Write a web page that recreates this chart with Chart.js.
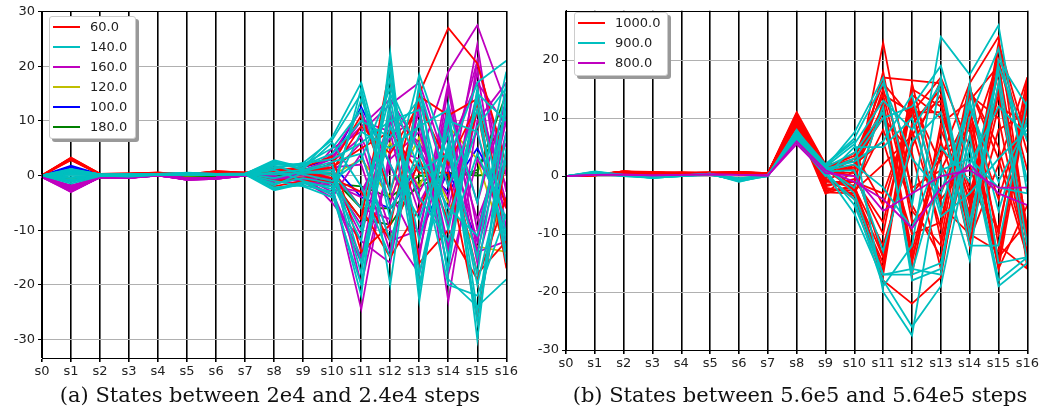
<!DOCTYPE html>
<html>
<head>
<meta charset="utf-8">
<script src="https://cdn.jsdelivr.net/npm/chart.js@4.4.1/dist/chart.umd.min.js"></script>
<style>
  body { margin: 0; background: #fff; width: 1041px; height: 412px; position: relative; overflow: hidden; }
  .panel { position: absolute; top: 0; height: 412px; }
  .legend { position: absolute; background: #fff; border: 1px solid #ccc; border-radius: 3px;
            box-shadow: 3px 3px 0 #999; font-family: "DejaVu Sans", sans-serif; font-size: 13px; color: #222; }
  .legend .row { position: absolute; height: 20px; }
  .legend .swatch { position: absolute; top: 9px; width: 27px; height: 2px; }
  .legend .txt { position: absolute; top: 2px; white-space: nowrap; }
  .caption { position: absolute; top: 383px; font-family: "DejaVu Serif", serif; font-size: 21px; color: #111; text-align: center; white-space: nowrap; }
</style>
</head>
<body>
<div class="panel" style="left:0;width:520px"><canvas id="leftChart"></canvas></div>
<div class="panel" style="left:520px;width:521px"><canvas id="rightChart"></canvas></div>
<div class="legend" id="legendLeft" style="left:49px;top:16px;width:85px;height:121px"></div>
<div class="legend" id="legendRight" style="left:574px;top:12px;width:92px;height:62px"></div>
<div class="caption" style="left:20px;width:500px">(a) States between 2e4 and 2.4e4 steps</div>
<div class="caption" style="left:550px;width:500px">(b) States between 5.6e5 and 5.64e5 steps</div>

<script>
const states = ["s0","s1","s2","s3","s4","s5","s6","s7","s8","s9","s10","s11","s12","s13","s14","s15","s16"];

// panel (a) rows, one per class
const aRed = [
  [0, 3.3, 0.3, 0.4, 0.5, 0.2, 0.8, 0.5, 1.5, 0.8, 2, 11, -3, 15, 27, 20.5, 2],
  [0, 3.0, 0.2, 0.3, 0.4, 0.1, 0.7, 0.4, 1.0, 1.5, 3.5, -14, -9, 14.5, 11, 14, -17],
  [0.1, 3.2, 0.1, 0.3, 0.5, 0.3, 0.6, 0.4, -2, -1, -1, -8, 20, -16, -10, -19, -4],
  [0, 2.8, 0.2, 0.2, 0.3, 0.1, 0.5, 0.3, 0.5, 0.8, 1.5, 5, 8, 0.5, 0.5, -26, 3],
  [0, 3.1, 0.3, 0.3, 0.4, 0.2, 0.7, 0.5, 1.2, 0.5, -0.5, -3, -12, 3, -8, 12, -16],
  [0, 2.9, 0.2, 0.3, 0.4, 0.2, 0.6, 0.4, 0.8, 1.2, 1, 9, 4, 13, 2, 13, -6],
  [0, 3.2, 0.3, 0.4, 0.5, 0.2, 0.8, 0.5, -1, -0.5, 0.5, -6, -15, -6, 5, -18, -12]
];
const aCyan = [
  [0, 1, 0.2, 0, 0.3, 0.4, 0.2, 0.3, 2.8, 1.5, 7, 17, -3, 18.5, 3, 17, 21],
  [0, -1.2, 0, -0.2, 0.1, 0.2, 0.1, 0.2, -2.7, -1.5, -2, -22, 22.5, -23, 13, -30, 15],
  [0, 0.8, 0.1, 0.1, 0.2, 0.5, 0.3, 0.4, 2.2, 2, 5, 12, -20, 17, -19, -24, -19],
  [0, -0.5, 0, 0.1, 0.2, 0.2, 0.2, 0.3, -1.8, 0.5, 1, -18, 14, -12, 10, 8, -12],
  [0, 1.2, 0.2, 0.3, 0.3, 0.3, 0.2, 0.3, 1.5, 2.2, 3, 6, 10, 12, -15, 15, 10],
  [0, 0.3, 0.1, 0, 0.1, 0.3, 0.1, 0.2, -1, -2, -4, 16, -6, 3, -20, -22, -7],
  [0, -1.5, -0.1, -0.1, 0.1, 0.1, 0.1, 0.2, 0.5, 1, 0, -10, 18, -20, 5, -15, 17],
  [0, 0.5, 0.1, 0.1, 0.2, 0.4, 0.2, 0.3, -2.2, -1.8, -3, 8, 5, 9, 12, -5, 19],
  [0, 1.0, 0.2, 0.2, 0.3, 0.4, 0.3, 0.3, 2.5, 1.2, 6, -2, -15, 16, -2, 12, -14],
  [0, -0.8, 0, 0, 0.2, 0.2, 0.1, 0.2, 1.0, -1, -2.5, 14, 2, -8, 8, -27, 5],
  [0, 0.2, 0.1, 0.1, 0.2, 0.3, 0.2, 0.3, -0.5, 0.8, 2, -16, 9, -4, -12, 4, -8],
  [0, 0.6, 0.1, 0, 0.2, 0.3, 0.2, 0.3, 1.8, 0.2, -1, 3, 16, 4, -6, -11, 12],
  [0, 0.9, 0.2, 0.1, 0.3, 0.4, 0.2, 0.3, 2.0, 1.8, 4, 10, 7, 14, -8, 9, 16],
  [0, -1.0, 0, 0, 0.1, 0.2, 0.1, 0.2, -1.5, -0.5, -1.5, -12, 20, -18, 6, -20, 3],
  [0, 0.4, 0.1, 0.1, 0.2, 0.3, 0.2, 0.3, 1.2, 2.3, 6.5, 15, -8, 10, -10, 14, -16],
  [0, -0.3, 0, 0, 0.2, 0.2, 0.2, 0.3, -2.5, -1.2, -3.5, -20, 12, -21, 11, -25, 8],
  [0, 1.1, 0.2, 0.2, 0.3, 0.4, 0.3, 0.3, 2.6, 1.0, 2.5, 4, -12, 6, -17, 16, -11],
  [0, 0.1, 0.1, 0.1, 0.2, 0.3, 0.2, 0.2, 0.2, 0.5, 0.5, -6, 15, 1, 4, -18, 14]
];
const aMagenta = [
  [0, -3, -0.3, -0.5, 0.1, -0.8, -0.6, 0, -0.5, -0.8, -2, -24.5, 5, 3, 19, 27.5, 13],
  [-0.2, -2.7, -0.4, -0.4, 0, -0.7, -0.5, 0.1, -1, -1.5, 5, 8, 13, 17, 1, 21, -3],
  [-0.3, -2.5, -0.2, -0.5, 0.1, -0.6, -0.4, 0, 0.2, 0.5, -5, -12, -16, 13, -23, 10, 17],
  [-0.1, -2.9, -0.3, -0.3, 0, -0.8, -0.5, 0.1, 0.3, 1, 3, 10, 8, -15, 16, -14, -12],
  [-0.2, -2.2, -0.2, -0.4, 0.1, -0.5, -0.4, 0, -0.8, -0.3, -3, -15, 12, -5, 5, 17, 9],
  [-0.3, -2.8, -0.3, -0.4, 0, -0.7, -0.6, 0, 0.5, 0.8, 1, -6, -8, 10, -18, 3, -6],
  [-0.1, -2.4, -0.2, -0.3, 0.1, -0.6, -0.5, 0.1, -0.3, -1.2, -4, 4, -12, -10, 13, -5, 14],
  [-0.2, -1.8, -0.3, -0.5, 0, -0.7, -0.4, 0, 0.2, 0.3, 2, -20, 3, 8, -9, 19, -13],
  [-0.2, -2.6, -0.2, -0.4, 0.1, -0.6, -0.5, 0.1, -1.5, -0.5, 4, 12, -3, -14, 9, -8, 6],
  [-0.1, -2.1, -0.2, -0.3, 0, -0.5, -0.4, 0, 0.8, 1.2, -1, -9, 11, 6, -4, 24, -10],
  [-0.3, -3, -0.3, -0.5, 0.1, -0.8, -0.6, 0, -0.2, -0.8, 0.5, 6, -10, -18, 3, -14, 8],
  [-0.2, -2.3, -0.2, -0.4, 0, -0.6, -0.5, 0.1, 0.4, 0.2, -2, -3, 7, 11, -13, 12, -2],
  [-0.2, -2.5, -0.3, -0.4, 0.1, -0.7, -0.5, 0, -0.6, 0.2, 3.5, 9, 14, 5, -6, 15, -5],
  [-0.1, -2.0, -0.2, -0.3, 0, -0.5, -0.4, 0.1, 0.6, -0.8, -3.5, -16, 2, -11, 17, -10, 11],
  [-0.3, -2.9, -0.3, -0.5, 0.1, -0.8, -0.6, 0, -1.2, 0.4, 1.5, 2, -14, 15, -2, 8, -14],
  [-0.2, -2.4, -0.2, -0.4, 0, -0.6, -0.5, 0.1, 0.1, 1.0, -0.5, -11, 9, -7, 11, -16, 4],
  [-0.2, -2.7, -0.3, -0.4, 0.1, -0.7, -0.5, 0, -0.4, -1.0, 2.5, 7, -5, 12, -14, 21, 0],
  [-0.1, -2.2, -0.2, -0.3, 0, -0.6, -0.4, 0, 0.7, 0.6, -1.5, -4, 10, -3, 7, -12, 10]
];
const aYellow = [
  [0, -0.5, 0, 0.1, 0.2, 0, 0.1, 0.2, 0.3, 0.5, 1, -6, 6, -2, 9, 3, -14],
  [0, 0.5, 0.1, 0.1, 0.2, 0.1, 0.2, 0.2, -0.5, -0.2, 0, 3, -4, 7, -5, -13, -14]
];
const aBlue = [
  [0, 1.8, 0.2, 0.2, 0.3, 0.2, 0.3, 0.3, 0.8, 1.5, 3, 12.5, 2, -11, 1, -12, 13],
  [0, 1.5, 0.1, 0.1, 0.2, 0.1, 0.2, 0.2, 0.5, 0.8, 2, -4, -6, 2, -3, 5, -5]
];
const aGreen = [
  [0, -0.8, -0.5, -0.4, 0, -0.3, -0.2, 0, 0.3, -0.5, -1, -8, -9, -1, 0, 0.5, 15],
  [0, -0.5, -0.3, -0.3, 0, -0.2, -0.1, 0.1, 0.5, -0.2, -0.5, -6, -6, -2, 0.5, 0, 0.5],
  [0, -0.6, -0.4, -0.2, 0, -0.2, -0.1, 0, 0.2, -0.8, -1.5, -2, -4, 0, -0.5, 1, 11]
];

// panel (b) rows
const bMagenta = [
  [0, 0.2, 0.3, 0.1, 0.2, 0.3, 0.2, 0.1, 6, 1, -1, -4, -9, -2, 2, -3, -5],
  [0, 0.2, 0.2, 0.1, 0.2, 0.3, 0.2, 0.1, 5.5, 0.5, 0, -6, -3, 0, 1, -2, -2]
];
const bCyan = [
  [0, 0.8, 0.2, -0.2, 0.1, 0.4, -1, 0.2, 6, 1.5, 7.5, 17, -5, 24, 17.5, 26, -3],
  [0, 0.5, 0.1, -0.3, 0, 0.3, -0.8, 0, 7, 2, 6, -20, -27.5, 2, -14.5, 20, 12],
  [0, 0.6, 0, -0.2, 0.1, 0.3, -0.6, 0.1, 6.5, 0.5, -6.5, -18, -26, -19, 5, -19, -15],
  [0, 0.4, 0.2, -0.1, 0.1, 0.2, -0.5, 0.1, 8, 1, 3, 10, 12, 19, 2, 12, 7],
  [0, 0.7, 0.1, -0.3, 0, 0.4, -0.9, 0, 7.5, 1.8, -3, -17, -16, -17, 16, -15, -14],
  [0, 0.3, 0.1, -0.2, 0.1, 0.3, -0.4, 0.1, 6, 0, 5, 5, 10, -7, -3, 3, 8],
  [0, 0.5, 0.2, -0.1, 0.1, 0.3, -0.7, 0.2, 7, 1.2, -2, 12, -18, -16, 10, 22, -1],
  [0, 0.6, 0.1, -0.2, 0, 0.2, -0.6, 0.1, 6.8, 0.8, 1, -13, 6, 11, -12, -12, 13],
  [0, 0.4, 0, -0.3, 0.1, 0.4, -0.5, 0, 7.2, 1.5, 4, 11, -16.5, 1, 3, -2, -3],
  [0, 0.5, 0.1, -0.2, 0.1, 0.3, -0.8, 0.1, 6.2, 0.3, -4, -19, -12, 17, -8, 16, -15],
  [0, 0.7, 0.2, -0.2, 0.1, 0.3, -0.6, 0.1, 7.8, 2, 6.5, 16, 3, -3, 13, -6, 10],
  [0, 0.3, 0.1, -0.1, 0.1, 0.2, -0.4, 0.1, 6.6, 1, 2, -2, -9, 5, -1, 18, -12],
  [0, 0.6, 0.1, -0.2, 0.1, 0.3, -0.7, 0.1, 7.4, 1.6, 5.5, 13, 8, 16, -10, 19, 6],
  [0, 0.5, 0.2, -0.3, 0, 0.3, -0.6, 0.1, 6.4, 0.9, -5, -17, -17, -15, 7, -18, -14],
  [0, 0.4, 0.1, -0.2, 0.1, 0.2, -0.5, 0, 7.0, 1.3, 2.5, 6, 14, -6, 12, -1, 9]
];
const bRed = [
  [0, 0.3, 0.8, 0.5, 0.5, 0.6, 0.7, 0.5, 11, 2, -2, 23, -3, 3, 16, 24, -10],
  [0, 0.2, 0.6, 0.6, 0.6, 0.5, 0.6, 0.4, 10, -3, 1, 17, 16.5, 16, -11, 2, 17],
  [0, 0.3, 0.7, 0.4, 0.4, 0.4, 0.5, 0.3, 9.5, -2, -3, -18, -22, -17.5, 12, -16, -5],
  [0, 0.1, 0.5, 0.6, 0.5, 0.5, 0.4, 0.4, 9, 1.5, 3.5, 14, 11, 17, 5, 20, -16],
  [0, 0.2, 0.8, 0.7, 0.6, 0.6, 0.5, 0.5, 10.5, 0, -4, -15, 13, -5, -10, -13, 12],
  [0, 0.3, 0.6, 0.5, 0.5, 0.4, 0.6, 0.4, 8.5, -1, 2, 12, -15, 8, -4, 18, -11],
  [0, 0.2, 0.7, 0.3, 0.4, 0.5, 0.5, 0.3, 9.8, 1, 0, -10, 15, 12, -2, -9, 14],
  [0, 0.1, 0.5, 0.6, 0.6, 0.4, 0.4, 0.5, 10.2, -2.5, -2, 8, -5, -14, 14, 10, -14],
  [0, 0.3, 0.6, 0.5, 0.5, 0.6, 0.7, 0.4, 9.2, 0.5, 1.5, -14, 9, 15, -7, 22, 4],
  [0, 0.2, 0.7, 0.4, 0.5, 0.5, 0.5, 0.4, 10.8, -1.5, -1, 18, -8, -3, 9, -15, 16],
  [0, 0.2, 0.8, 0.6, 0.6, 0.5, 0.6, 0.4, 9, 1, 4, -5, 12, -11, 15, 5, -13],
  [0, 0.3, 0.5, 0.5, 0.5, 0.5, 0.5, 0.5, 9.6, -0.5, -3.5, 13, -13, 6, -9, 12, 9],
  [0, 0.2, 0.6, 0.6, 0.5, 0.4, 0.6, 0.3, 10.4, 2, 2.5, 10, 4, -16, 7, -14, -8],
  [0, 0.3, 0.7, 0.4, 0.6, 0.6, 0.4, 0.4, 8.8, -3, -1.5, -17, 14, 10, -12, 16, -15],
  [0, 0.1, 0.6, 0.5, 0.4, 0.5, 0.7, 0.5, 9.4, 0.8, 0.5, 15, -2, 1, 11, -4, 13],
  [0, 0.2, 0.5, 0.6, 0.5, 0.5, 0.5, 0.4, 10, 1.2, -2.5, 2, 7, 14, -5, 20, 1],
  [0, 0.2, 0.7, 0.5, 0.5, 0.5, 0.6, 0.4, 9.3, 0.2, 3, 16, 10, 13, -8, 14, -12],
  [0, 0.3, 0.6, 0.6, 0.5, 0.4, 0.5, 0.4, 10.6, -2.8, -3, -16, 16, -4, 2, -15, 15],
  [0, 0.1, 0.8, 0.4, 0.6, 0.6, 0.6, 0.5, 9.1, 1.8, 1, 11, -17, 9, 13, 19, -9],
  [0, 0.2, 0.5, 0.5, 0.4, 0.5, 0.4, 0.3, 10.1, -0.8, -2, -12, 5, 16.5, -10, 8, 11],
  [0, 0.3, 0.7, 0.6, 0.5, 0.5, 0.7, 0.4, 9.7, 0.3, 2, 6, -10, -8, 16, -12, -16],
  [0, 0.2, 0.6, 0.4, 0.5, 0.6, 0.5, 0.5, 8.9, -1.8, -0.5, -8, 13, 2, -6, 23, 6],
  [0, 0.1, 0.7, 0.5, 0.6, 0.4, 0.6, 0.4, 10.3, 1.4, 3, 14, -6, -12, 10, -10, 17],
  [0, 0.3, 0.5, 0.6, 0.5, 0.5, 0.5, 0.4, 9.9, -1, -1, -3, 11, 11, -3, 15, -11],
  [0, 0.2, 0.8, 0.5, 0.4, 0.5, 0.6, 0.5, 9.0, 0.6, 1.5, 12, -14, 4, 8, -16, 12],
  [0, 0.2, 0.6, 0.5, 0.5, 0.6, 0.4, 0.4, 10.7, -2.2, -2.5, -14, 8, -9, 15, 3, -14]
];

const yTicksA = [-30, -20, -10, 0, 10, 20, 30];
const yTicksB = [-30, -20, -10, 0, 10, 20];

const C = { r: "#ff0000", c: "#00bfbf", m: "#bf00bf", y: "#bfbf00", b: "#0000ff", g: "#008000" };

// legend order as in the figure
const legendA = [["60.0", C.r], ["140.0", C.c], ["160.0", C.m], ["120.0", C.y], ["100.0", C.b], ["180.0", C.g]];
const legendB = [["1000.0", C.r], ["900.0", C.c], ["800.0", C.m]];

function makeSets(groups) {
  let sets = [];
  groups.forEach(g => {
    g.rows.forEach(row => {
      sets.push({ label: g.label, data: row, borderColor: g.color, borderWidth: 1.8,
                  pointRadius: 0, fill: false, tension: 0 });
    });
  });
  return sets;
}

// frame on top and right, like matplotlib spines
const frame = {
  id: "frame",
  afterDraw(chart) {
    const a = chart.chartArea, ctx = chart.ctx;
    ctx.save();
    ctx.strokeStyle = "#000";
    ctx.lineWidth = 1;
    ctx.strokeRect(Math.round(a.left) + 0.5, Math.round(a.top) + 0.5, Math.round(a.right - a.left), Math.round(a.bottom - a.top));
    ctx.restore();
  }
};

function build(id, sets, yMin, yMax, yTicks, yWidth, pad) {
  return new Chart(document.getElementById(id), {
    type: "line",
    data: { labels: states, datasets: sets },
    options: {
      responsive: false,
      animation: false,
      layout: { padding: pad },
      plugins: { legend: { display: false }, tooltip: { enabled: false } },
      scales: {
        x: {
          z: 1,
          offset: false,
          grid: { color: "#000", lineWidth: 1.6, tickLength: 4, tickColor: "#000" },
          border: { color: "#000", width: 1 },
          ticks: { color: "#222", font: { family: "DejaVu Sans", size: 13 }, padding: 2, maxRotation: 0, autoSkip: false },
          afterFit: s => { s.height = 30; }
        },
        y: {
          min: yMin, max: yMax,
          afterBuildTicks: s => { s.ticks = yTicks.map(v => ({ value: v })); },
          grid: { color: "#b0b0b0", lineWidth: 1, tickLength: 4, tickColor: "#000" },
          border: { color: "#000", width: 1 },
          ticks: { color: "#222", font: { family: "DejaVu Sans", size: 13 }, padding: 3 },
          afterFit: s => { s.width = yWidth; }
        }
      }
    },
    plugins: [frame]
  });
}

function sizeCanvas(id, w, h) {
  const cv = document.getElementById(id);
  cv.width = w; cv.height = h;
  cv.style.width = w + "px"; cv.style.height = h + "px";
}

sizeCanvas("leftChart", 520, 412);
sizeCanvas("rightChart", 521, 412);

build("leftChart", makeSets([
  { label: "140.0", color: C.c, rows: aCyan },
  { label: "60.0", color: C.r, rows: aRed },
  { label: "160.0", color: C.m, rows: aMagenta },
  { label: "120.0", color: C.y, rows: aYellow },
  { label: "100.0", color: C.b, rows: aBlue },
  { label: "180.0", color: C.g, rows: aGreen }
]), -33.4, 30.1, yTicksA, 42, { left: 0, top: 11, right: 12, bottom: 24 });

build("rightChart", makeSets([
  { label: "800.0", color: C.m, rows: bMagenta },
  { label: "900.0", color: C.c, rows: bCyan },
  { label: "1000.0", color: C.r, rows: bRed }
]), -30, 28.5, yTicksB, 46, { left: 0, top: 5, right: 10, bottom: 32 });

function fillLegend(id, items) {
  const box = document.getElementById(id);
  items.forEach((it, i) => {
    box.innerHTML += `
      <div class="row" style="left:0;top:${i * 20}px;width:100%">
        <div class="swatch" style="left:3px;background:${it[1]}"></div>
        <div class="txt" style="left:40px">${it[0]}</div>
      </div>`;
  });
}
fillLegend("legendLeft", legendA);
fillLegend("legendRight", legendB);
</script>
</body>
</html>
